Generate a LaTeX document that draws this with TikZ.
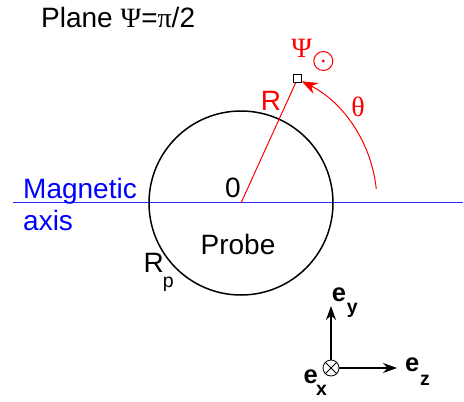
\documentclass[tikz,border=0pt]{standalone}
\usepackage{fontspec}
\setmainfont{Liberation Sans}
\newfontfamily\grk{Liberation Serif}
\usetikzlibrary{arrows.meta}
\definecolor{axisblue}{RGB}{40,40,255}
\begin{document}
\begin{tikzpicture}[x=1pt,y=-1pt,
  txt/.style={inner sep=0pt, font=\fontsize{28}{33}\selectfont},
  subtxt/.style={inner sep=0pt, font=\fontsize{19.5}{23}\selectfont},
  etxt/.style={inner sep=0pt, font=\fontsize{25.5}{30}\selectfont\bfseries},
  esub/.style={inner sep=0pt, font=\fontsize{19.5}{23}\selectfont\bfseries},
  axarrow/.style={line width=1.2pt, -{Stealth[length=14pt,width=10pt]}},
  redline/.style={red, line width=1pt}]
\useasboundingbox (0,0) rectangle (464,402);

% title
\node[txt, anchor=base west] (title) at (41,27) {Plane {\grk Ψ}={\grk π}/2};

% magnetic axis
\coordinate (axL) at (13,202.5);
\coordinate (axR) at (463,202.5);
\draw[draw=axisblue, line width=1.1pt] (axL) -- (axR);
\node[txt, blue, anchor=base west] (mag) at (23,198) {Magnetic};
\node[txt, blue, anchor=base west] (axis) at (23,230.7) {axis};

% probe
\coordinate (O) at (241,203);
\node[draw, circle, minimum size=184pt, line width=1.5pt, inner sep=0pt] (probe) at (O) {};
\node[txt, anchor=base] (zero) at (233,197.7) {0};
\node[txt, anchor=base] (probelbl) at (238,254) {Probe};
\node[txt, anchor=base west] (Rp) at (143.3,272.7) {R};
\node[subtxt, anchor=base west] (Rpsub) at (162.7,287) {p};

% point and radius
\node[draw, line width=1.2pt, minimum size=8pt, inner sep=0pt] (sq) at (297.7,78.3) {};
\draw[redline] (O) -- (sq);
\node[txt, red, anchor=base west] (Rlbl) at (260.7,110) {R};

% theta arc
\coordinate (arcstart) at ([shift={(-6:136)}]O);
\draw[redline, -{Stealth[length=16pt,width=12pt]}] (arcstart) arc[start angle=-6, end angle=-63.5, radius=136];
\node[txt, red, anchor=base] (theta) at (358,116) {\grk θ};

% Psi odot
\node[txt, red, anchor=base] (psi) at (301.7,57.3) {\grk Ψ};
\node[draw=red, circle, line width=1pt, minimum size=19pt, inner sep=0pt] (odot) at (323.3,61) {};
\fill[red] (odot.center) circle[radius=1.6];

% axes
\node[draw, circle, minimum size=16pt, inner sep=0pt, line width=0.8pt] (ox) at (331,368) {};
\draw[line width=0.8pt] (ox.45) -- (ox.225);
\draw[line width=0.8pt] (ox.135) -- (ox.315);
\coordinate (eyend) at (331,306);
\coordinate (ezend) at (397,368);
\draw[axarrow] (ox) -- (eyend);
\draw[axarrow] (ox) -- (ezend);
\node[etxt, anchor=base west] (ey) at (331.7,301.7) {e};
\node[esub, anchor=base west] (eysub) at (346.7,313.3) {y};
\node[etxt, anchor=base west] (ez) at (405,371.7) {e};
\node[esub, anchor=base west] (ezsub) at (420,385) {z};
\node[etxt, anchor=base west] (ex) at (303.3,383.3) {e};
\node[esub, anchor=base west] (exsub) at (316,395) {x};
\end{tikzpicture}
\end{document}
